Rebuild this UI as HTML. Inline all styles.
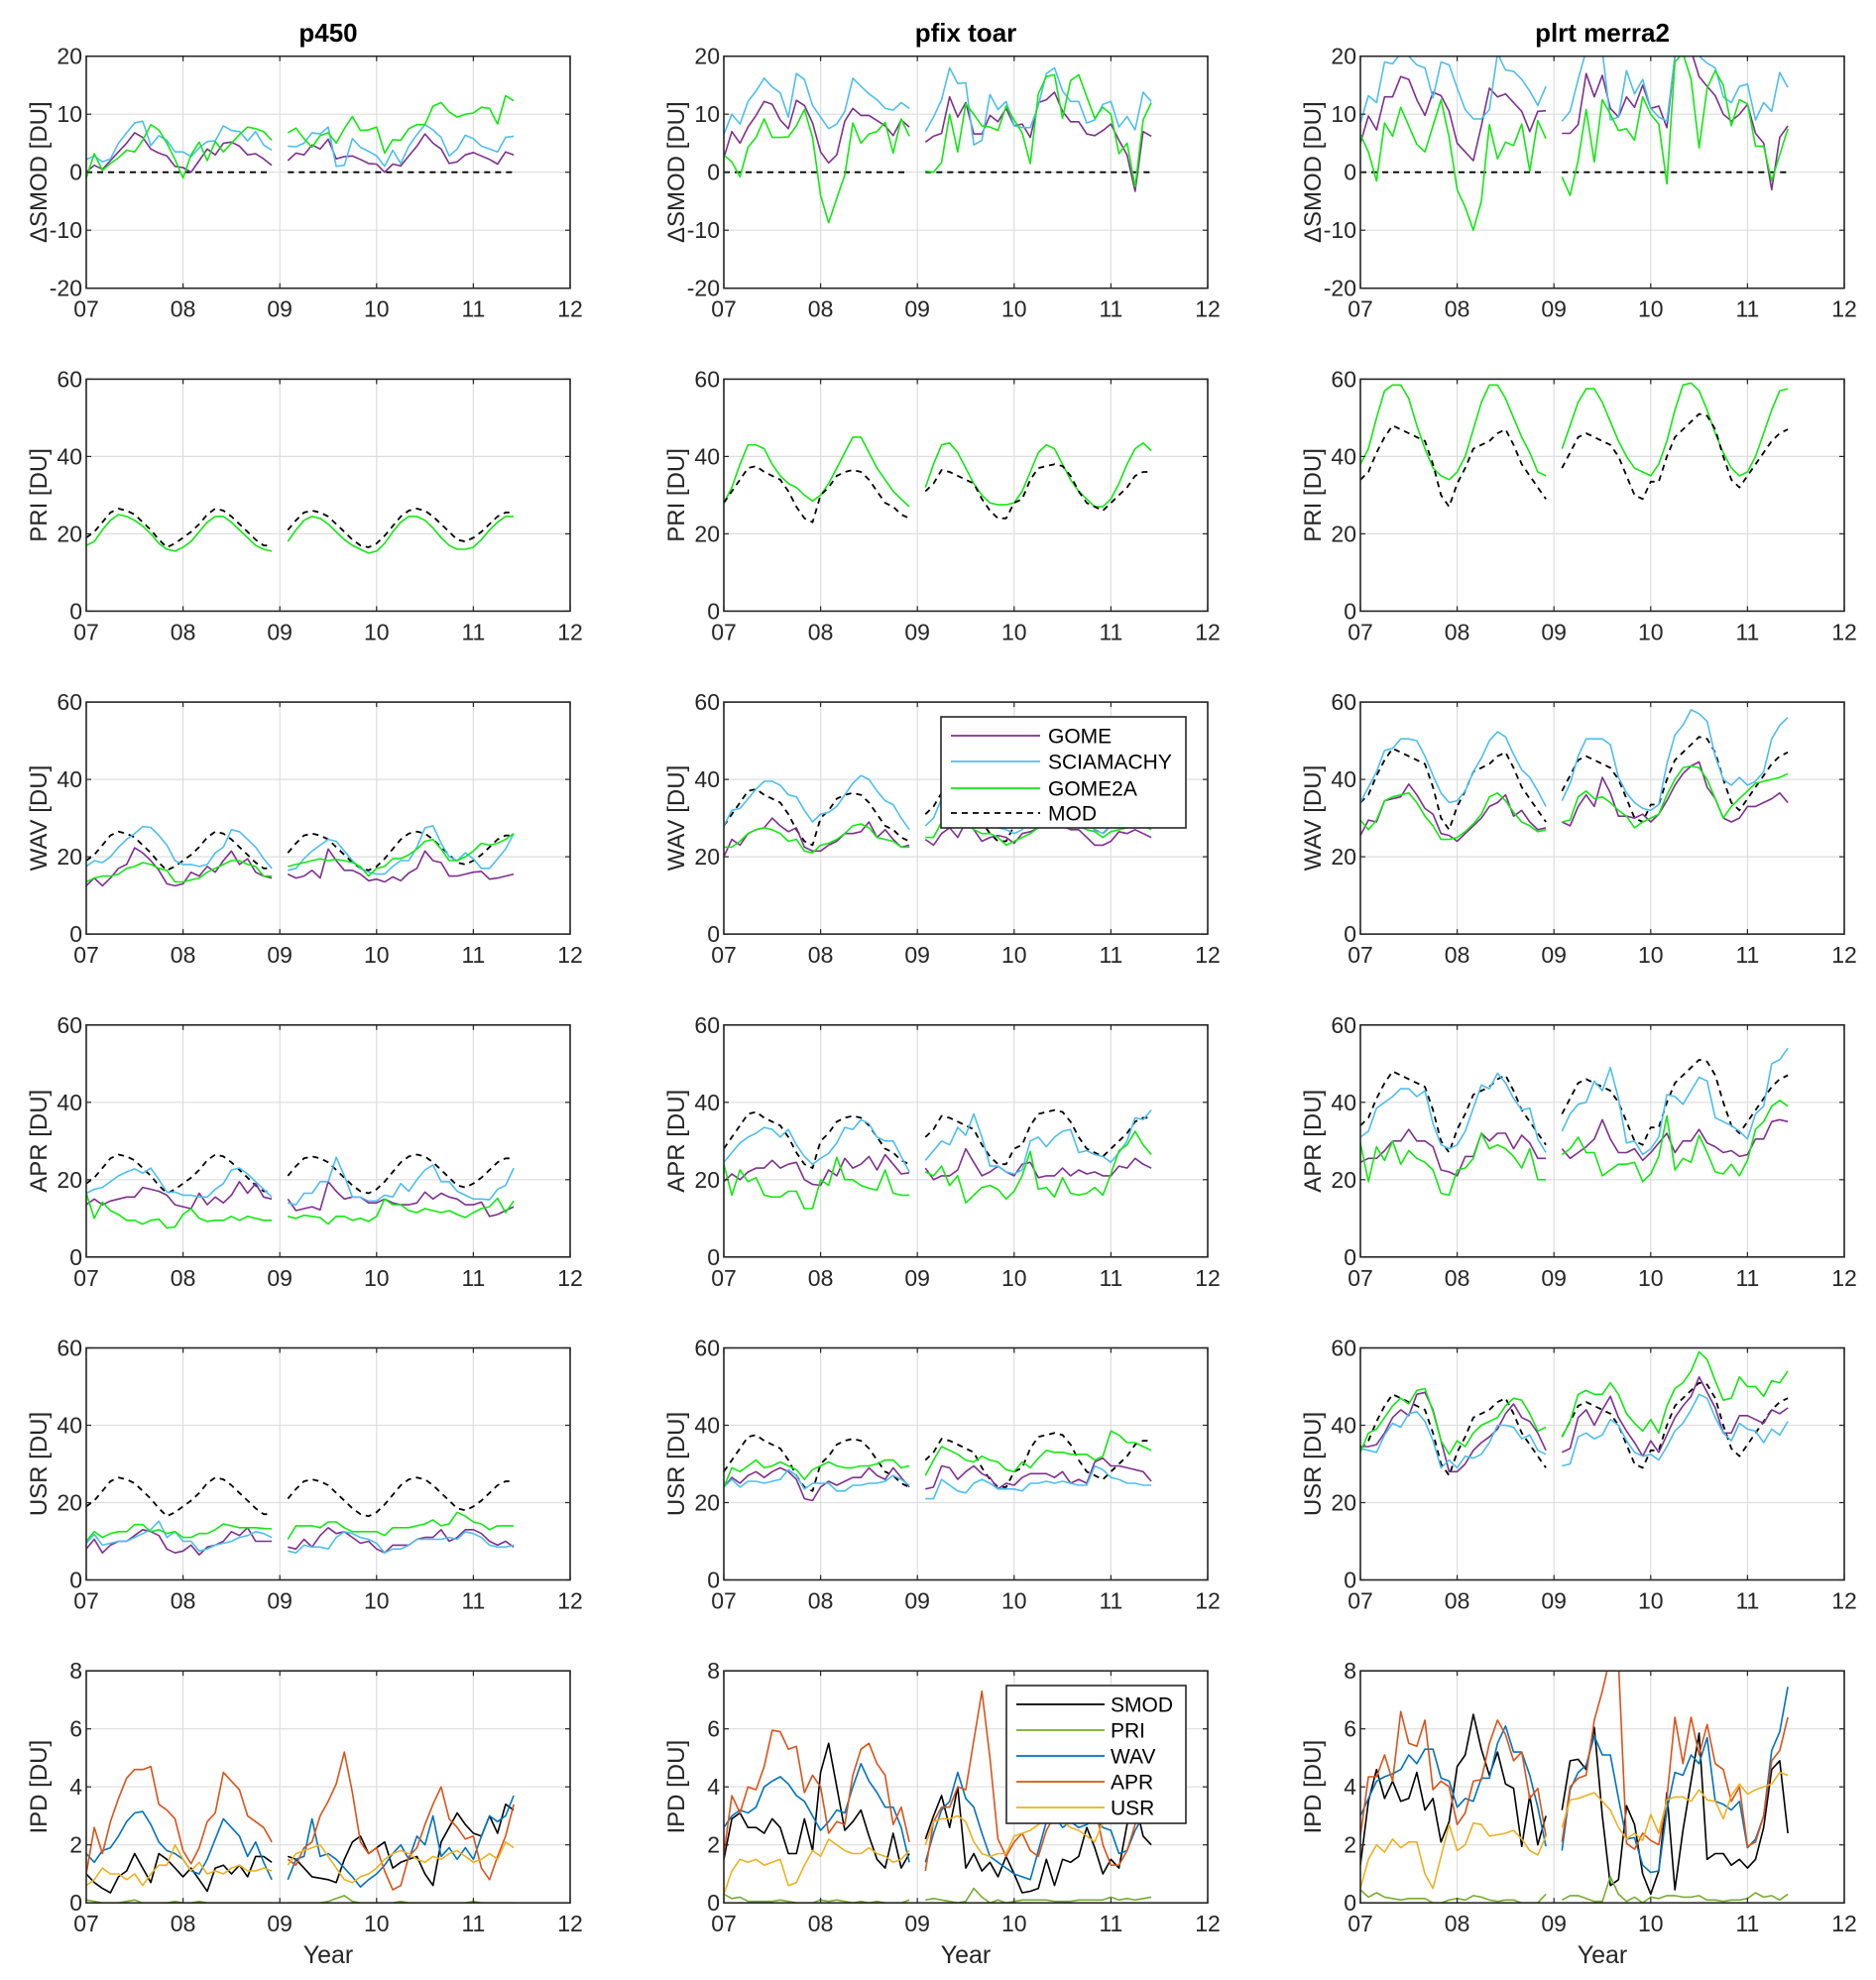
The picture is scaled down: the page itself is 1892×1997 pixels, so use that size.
<!DOCTYPE html>
<html><head><meta charset="utf-8"><title>Ozone panels</title>
<style>
html,body{margin:0;padding:0;background:#fff;}
svg{display:block;font-family:"Liberation Sans",Arial,sans-serif;}
</style></head>
<body>
<svg id="fig" width="1892" height="1997" viewBox="0 0 1892 1997" xmlns="http://www.w3.org/2000/svg"></svg>
<script>
// ---- tick labels ----
const xTickLabels = ["07","08","09","10","11","12"];
const colTitles = ["p450","pfix toar","plrt merra2"];
const rowLabels = ["\u0394SMOD [DU]","PRI [DU]","WAV [DU]","APR [DU]","USR [DU]","IPD [DU]"];
const smodTicks = [-20,-10,0,10,20];
const duTicks = [0,20,40,60];
const ipdTicks = [0,2,4,6,8];

// ---- model (MOD) per column: 24 values (Jan07-Dec08) + 29 values (Feb09-Jun11) ----
const mod_p450 = [19,20.5,23,25.5,26.5,26,25,23,21,18.5,16.5,17.5,19,20.5,22.5,25,26.5,26,24.5,22.5,20.5,18.5,17,17,
 21,23.5,25.5,26,25.5,24.5,22.5,20.5,18.5,17,16.5,17.5,19.5,22,24.5,26,26.5,26,24.5,22.5,20.5,18.5,18,19,20.5,22.5,24.5,25.5,25.5];
const mod_pfix = [28,31,34,37,37.5,36,35,34,31,27,24,23,30,32,35,36,36.5,36,34,31,28,27,25,24,
 31,33,36.5,36,35,34,33,29,26,24,24,28,29,34,37,37.5,38,37.5,35,31,28,27,26,28,30,32,35,36,36];
const mod_plrt = [34,36,41,45,48,47,46,45,44,38,30,27,33,37,42,43,44,46,47,43,38,35,32,29,
 37,41,45,46,45,44,43,40,35,30,29,33.5,33.5,40,45,47,49,51,50.5,47,40,34,32,35,38,41,44,46,47];

// ---- dSMOD ----
const smod_p450_gome = [0,1.2,0.5,2,3.5,5,6.8,6,4,3.3,2.8,1,0.8,0,2,4,3,5,5.2,4.5,3,3.2,2.3,1.2,
 2,3.3,3,4.7,4,5.7,2.3,2.7,2.8,2.2,1.5,1.4,0,1.4,1.1,2.8,4.5,6.6,5,4,1.5,1.8,3,3.4,2.8,2.2,1.4,3.5,3];
const smod_p450_scia = [2.2,2.8,1.8,2.3,5,6.8,8.5,8.8,4.6,6.3,5.5,3.5,3.5,2.7,4.2,5.3,5.4,8,7.2,7,5.4,7,4.7,3.8,
 4.5,4.4,5,6.8,6.6,7.8,1,1.2,5.8,4.3,3.6,2.8,1,3.8,1.5,4.5,6.5,8.2,7.3,6,2.8,4,6.4,5.8,4.5,4,3.5,6,6.2];
const smod_p450_g2a = [-1,3.2,0.3,1.5,2.5,3.8,3.5,5.5,8.2,7.3,5,2.2,-1,3,5.2,2,5.3,3.5,5,6.5,7.8,7.5,7,5.5,
 6.8,7.6,5.8,4.3,6.3,6.8,5,7.5,9.6,7.2,7.3,7.8,3.3,5.6,5.5,7.5,8.2,8.2,11.4,12,10.4,9.5,10,10.2,11.2,11,8.3,13.2,12.3];
const smod_pfix_gome = [2.5,7,5,7.8,9.8,12.2,11.7,9,7.5,12.4,11.5,8.5,3.5,1.6,3,8.8,11,9.8,9.8,8.9,8,6.3,9,7.8,
 5.2,6.2,6.7,13,9.5,12,6.6,6.6,9.8,8.7,11,8,8.3,6,12,12.5,13.8,10.5,8.7,8.7,6.6,6.3,7.2,8.3,5.5,3,-3.3,7,6.2];
const smod_pfix_scia = [6.5,10,8.3,12.2,14,16.2,14.7,13.7,9.5,17,16,11.5,9.5,7.5,8.3,10.5,16.2,14.8,13.5,12.5,11,10.7,12,11,
 7,9.5,12.5,18,15.3,15.4,4.7,5.5,13.4,10.8,12.2,8,7.7,7.7,11.5,17,18,14,12.2,12.2,8.5,9,11.7,12.2,7.8,9.6,7.3,13.8,12.2];
const smod_pfix_g2a = [3,1.8,-0.8,4.3,6,9.2,6,6,6.1,8,10.8,6,-4,-8.7,-4.5,-0.5,8.5,5,6.6,7,8.6,3.3,9.2,6.2,
 0.2,0,1.7,10,3.5,11.8,10,8,7.8,7.2,11.4,9,6.8,1.5,13.5,16.5,16.8,9.3,15.8,16.8,13,9.3,11.2,10,3.2,5,-2.5,9,12];
const smod_plrt_gome = [5,9.7,7.3,13,13,16.5,16,12.5,9.8,13.8,13.2,10.5,5,3.5,2,8,14.5,13,13.5,12,10.5,7,10.5,10.6,
 6.7,6.7,8.2,17,13,16.7,11,9.5,13,11.2,15,11,11.4,7.7,20,21,21,16.5,14.8,13.2,10,8.8,10,11.7,6.7,5,-3,6,8];
const smod_plrt_scia = [8.5,13.2,12,19,18.7,20.5,20,18.5,18,12.8,19,18.5,14.5,10.8,9.2,9.2,10.8,20.5,17.6,17.4,16,14,11.5,14.8,
 8.8,10.5,16,21,20,21,9,9.5,17.5,13.5,16,11,9.5,8.8,20,21,21,20,18.8,18,13,12,14.8,15.2,9,12,10.5,17.2,14.6];
const smod_plrt_g2a = [6.5,3.5,-1.5,8.5,6.2,11.2,8,4.8,3.5,8,12.5,6,-3,-6,-10,-5,8.2,2.3,5.2,4.6,8.3,0.2,8.9,5.8,
 -0.8,-4,2,10.8,1.8,12.5,10,7.2,7.5,5.5,13,10,8.3,-2,19,20.5,16,4.2,14.5,17.5,15,8,12.5,11.8,4.5,4.5,-1.5,3,7.5];

// ---- PRI (all satellites nearly identical) ----
const pri_p450_g2a = [17,18,21,23.5,25,24.5,23.5,22,20,17.5,16,15.5,16.5,18,20.5,23,24.5,24.5,23,21,19,17,16,15.5,
 18,21,23.5,24.5,24,22.5,20.5,18.5,17,16,15,15.5,17.5,20.5,23,24.5,24.5,23.5,21.5,19,17,16,16,16.5,18.5,21,23,24.5,24.5];
const pri_pfix_g2a = [28,32,38,43,43,42,38,35,33,32,30,28.5,30,33,37,41,45,45,41,37,34,31,29,27,
 32,38,43,43.5,41,37,33,30,28,27.5,27.5,28,31,36,41,43,42,38,34,31,29,27,27,29,33,38,42,43.5,41.5];
const pri_plrt_g2a = [38,42,50,57,58.5,58.5,55,48,42,37,35,34,36,40,47,54,58.5,58.5,55,50,45,41,36,35,
 42,48,54,57.5,57.5,54,49,44,40,37,36,35,38,44,52,58.5,59,57,52,46,41,37,35,36,40,46,52,57,57.5];

// ---- WAV ----
const wav_p450_gome = [12.5,14.5,12.5,14.5,17,18,22.3,21,19,16.5,13,12.5,13,16,15,17.5,16,19,21.5,18,19.5,16,15,14.5,
 15.5,14.5,15,16.5,14.5,22,19,16.5,16.5,15.5,13.8,14.2,13.5,14.8,13.8,15.8,17,21.5,19,18.5,15,15,15.5,16,16.2,14.2,14.5,15,15.5];
const wav_p450_scia = [17.5,19,18.5,20,22.5,24.5,26,27.8,27.6,25.5,23,19,18,18,17.5,18,21,22.5,27,26.5,24.5,22.5,19.5,17,
 16.5,17,19.5,21.5,23,24.5,24,21.5,19,17,16,15.5,15.5,17.5,19,19,22.5,27.5,28,23.5,20,19,21,19.5,17,17,19.5,22,26];
const wav_p450_g2a = [13.5,14.5,15,15,15.5,17,17.5,18.5,18,17,16.5,13.5,13.5,14,14.5,16,17,18,19,19,18,17.5,15,15,
 17.5,18,18.5,19,19.5,19,19.3,19,18.5,17.5,15,17,17.5,19.5,19.5,20.5,22,24,24.5,22,19,19,20,21.5,23.5,23,23.5,24.5,26];
const wav_pfix_gome = [20,24.5,23,26,27,27.5,30,28,26.5,27.5,22.5,21.5,21.5,23,24,26,26,26.5,29,25,27,24.5,22.5,23,
 24.5,23,26,27.5,25,29,27,24,25,25.5,25,23.5,26,26.5,27.5,28,28,28,27,27,25,23,23,24,26.5,26,27,26,25];
const wav_pfix_scia = [28,32,32.5,35,37.5,39.5,39.5,38.5,36,35.5,32,29,31,31.5,33,36,39,41,40,37,34.5,33.5,30,27,
 28,30,35,39,40,38,34,31,29,27.5,27,26,27,30,35,38,41,40,37,33,30,27,26,28,31,33,35,37,36];
const wav_pfix_g2a = [22.5,22.5,24,26,27,27.5,27,26,24,24.5,21.5,21,23,23.5,24.5,26,28,28.5,27.5,25,24.5,24,22.5,22.5,
 25,25,29,29,28,29,27,26,26,25,23,24,25,26,27.5,29,29,28.5,28,28,27,26.5,25,26.5,27,27.5,28,28,27];
const wav_plrt_gome = [25.5,29.5,29,34.5,35,35.5,38.8,36,32.5,31,26,25.5,24,26,28,30,33,34,36,30.5,32,29,27,27.5,
 29,28,33,36,33,40.5,36.5,30.5,30.5,30,31,29,31,34.5,38.5,41.5,43.5,44.5,38,35,30,29,30,33,33,34,35,36.5,34];
const wav_plrt_scia = [34,38,42,47.5,48,50.5,50.5,50,46,41,36.5,34,34.5,37,42,45.5,50,52.3,51,46.5,42.5,40.5,37,33,
 34.5,39,46,50.5,50.5,50.5,49,40.5,36.5,34,32.5,32,33.5,44,51.5,54,58,57,55,46,40,38.5,40.5,38.5,39.5,42,50.5,54,56];
const wav_plrt_g2a = [29.5,27,29.5,34.5,35.5,36,36.5,34,30.5,28,24.5,24.5,25,26.5,28.5,31,35.5,36.5,34.5,31.5,29,28,26.5,27,
 29,29.5,35.5,37,35,35.5,34,32,30.5,27.5,29,30,31,36,40,43,43.5,43,40,35,30,33,35,37,39,39.5,40,40.5,41.5];

// ---- APR ----
const apr_p450_gome = [13.5,15,13.5,14.5,15,15.5,15.5,18,17.5,17,16,13.5,13,12.5,16.5,13.5,15.5,14,16,19.5,16.5,19,15.5,15,
 15,12,12.5,13,12.2,19.5,17,15,15.5,15.5,14,14,15,14,13.5,13.5,14,16.8,15,16.5,15.5,15,13.5,13.5,14.2,10.5,11,12,13];
const apr_p450_scia = [16.5,17.5,18,19.5,21,22,22.8,21.7,23,20,16.8,16.8,16,16,15.5,15.5,17.5,19,22.5,23,21.5,19.5,17.5,15.5,
 14,13.5,16.5,16.5,19.5,19.5,25.8,21,15.5,15.5,14.5,14.5,16,15.5,19,17,20,22.5,23.8,19.5,19.5,17,16,15,15,14.8,17.5,18.5,23];
const apr_p450_g2a = [16.5,10,14.2,12,11,9.5,9.5,8.5,9.5,9.8,7.5,7.8,11,12.5,10,9.2,9.5,9.5,10.5,9.5,10.5,10,9.5,9.5,
 10.5,10,10.8,10.5,10.2,8.5,10.5,10.5,9.5,10,9.2,10.5,15,13.5,13.5,12,11.5,12.5,12,11.5,12,11,10.2,11.5,12.5,13,15.2,11.5,14.5];
const apr_pfix_gome = [19.5,21.5,20,22,23,23,25,23,24,24.5,20,18.8,18.5,22.5,21,25.5,23,24,26,22.5,26.5,24,21.5,21.8,
 23,20,21,21,22.5,28,24.5,21,22,23.5,22,21,24,24.5,20.5,21,21,23,21,22.5,21.5,22,21,21,23.5,23,25.5,24,23];
const apr_pfix_scia = [24.5,27,29.5,31,32,33.5,33,31,33,29,26,24,25.5,26.8,29.5,33.5,33,35.5,34.5,31,30,30,26,22,
 25,27.5,30,29,33.5,31.5,37,31,23.5,23.5,22,21.5,22.5,30,31,28.5,31,32.5,33,27,27.5,26.5,26,24.5,27,30,36,35.5,38];
const apr_pfix_g2a = [24,16,22.5,19.5,20.5,16,15.5,15.5,17,17,12.5,12.5,20,18.5,25.8,20,20,18.5,17.8,17.3,22.5,16.5,16,16,
 22,21,23.5,18.5,21,14,16,18,18.5,17.5,15,17,21,27.3,17.5,18,15.5,20.5,16.5,16,16.5,18,16,21.5,27.5,29,32.5,29,26.5];
const apr_plrt_gome = [24.5,25.5,25.5,27.5,30,30,33,30,30,28.5,22.5,22,21,26,26,32,30,32,32,28,31.5,29.5,25.5,25.5,
 28,25.5,27,28.5,30.5,35.5,30.5,27,27,28,25,27,29.5,32,27,30,30,33,29.5,28.5,27,27.5,26,26.5,30.5,30.5,35,35.5,35];
const apr_plrt_scia = [31,32.5,38.5,40,41.5,43.5,43.5,41.5,43,34.5,29,28,29,32.5,38.5,44.5,43.5,47.5,45,41,38,38.5,30.5,27,
 32.5,37,39.5,40,45.5,43,49,41,29.5,30,26.5,28,31,42,41.5,39.5,43,46.5,45.5,36,35,34,32.5,30.5,37,39,50,51,54];
const apr_plrt_g2a = [29.5,19.5,28.5,25,30,24,27.5,25.5,24.5,22.5,16.5,16,22.5,23,25.5,32,28,29,28,26,23,28,20,20,
 26.5,28,31,27,27,21,22.5,24,24,24.5,19.5,21.5,26,36.5,22.5,25.5,24.5,31.5,27,22,21.5,24,21,25,33,35,39,40.5,39];

// ---- USR ----
const usr_p450_gome = [8,10.5,7,9,10,10,11.5,13,12.5,11.5,8,7,7.5,9,6.5,8.5,9,10,12.5,11.5,13.5,10,10,10,
 8.5,8,10.5,8.5,11.5,13.5,12,12.5,11,9.5,10,8,7,9,9,9,10.5,11,11,13,10,11,13,13,12,10,9,10,8.5];
const usr_p450_scia = [9.5,11.8,9,9.5,10,10,11,12,13,15.2,11,12.5,10,10,7.5,8,9,9.5,10,11,11.5,12.5,12,11,
 7.5,7,9,8.5,8.5,8,11,12.5,12,11,10.5,9.5,7,8,8,9,10.5,10.5,10.5,10.5,11,10.5,12.5,12,11,9,8.5,8.5,9];
const usr_p450_g2a = [10,12.5,11,12,12.5,12.5,14.3,14.3,12.5,13,12,12.5,11,11,12,12,13,14.5,14,13.5,13.5,13.5,13.3,13.2,
 10.5,14,14,14,13.5,15,15,13.5,12.5,12.5,12.5,12.5,11.5,13.5,13.5,13.5,14,14.5,15.5,14,14.5,17.5,16.5,15,14.5,13,14,14,14];
const usr_pfix_gome = [24,26.5,25,27,28,26.5,28,29,28,26,21,20.5,24,25.5,24.5,25.5,26.5,26.5,29,27,26,29,26.5,24,
 23.5,24,29.5,29,26,28,29.5,27.5,26.5,23.5,25,24.5,26.5,27.5,27.5,27.5,26.5,28,25,26,25,30.5,31.5,29.5,29.5,29,28.5,28,25.5];
const usr_pfix_scia = [24,26,24,25.5,25.5,25,25.5,26,28.5,27,23.5,25,25,25,23,23,24.5,24.5,25,25,25.5,27,26,24.5,
 21,21,26,24.5,23,22.5,25,26,25,23.5,23.5,23.5,23,25,25,25.5,25,25.5,25,24.5,24.5,29.5,28.5,26.5,26,25,25,24.5,24.5];
const usr_pfix_g2a = [24,29,28,29.5,31,29,29.5,30.5,29.5,28.5,26,28.5,29.5,30.5,29.5,29,29,29.5,29.5,30,31,31,29,29.5,
 27,31,34.5,33.5,32.5,31,30.5,32,31,30.5,28.5,28,30.5,29,31.5,33.5,33,33,32.5,32.5,32.5,31,32,38.5,37.5,35.5,35.5,34.5,33.5];
const usr_plrt_gome = [34.5,34.5,35,38,42,44,42.5,48,48.5,44,36,28,28,30,33.5,35.5,37,39,43,45.5,42,41,38,33.5,
 33,34,42,44,40,44,47.5,42,38.5,35.5,32,36,33,37.5,42,45,47.5,52.5,48.5,44.5,38,38,42.5,42.5,41.5,40.5,44,43,44.5];
const usr_plrt_scia = [34,33.5,33,37.5,40.5,39.5,43,43.5,41,36,29,31,29,32,31.5,32.5,35.5,40,40,39.5,36.5,37.5,33.5,32.5,
 29.5,30,37,38,36.5,37.5,41.5,40,36,33,32,32.5,31,34.5,38.5,40.5,44,48,47,42,38,36,40.5,39,38.5,35.5,39,37.5,41];
const usr_plrt_g2a = [33,38,39,42,45,47,45.5,49,49.5,43.5,36,32.5,36,34.5,38,40,41,42,45,47,46.5,43,38.5,39.5,
 37,41,48,49,48,48,51,48,43,40.5,38.5,41.5,38,45,49.5,51,54,59,57,51.5,46.5,47,52.5,50,50,47.5,51.5,51,54];

// ---- IPD ----
const ipd_p450_smod = [1,0.7,0.5,0.35,0.9,1.1,1.7,1.2,0.7,1.7,1.5,1.2,0.9,1.2,0.8,0.4,1.2,1.3,1.0,1.3,0.9,1.6,1.6,1.4,
 1.6,1.5,1.2,0.9,0.85,0.8,0.7,1.5,2.1,2.3,1.7,1.9,2.1,1.2,1.4,1.5,1.6,1.0,0.6,2.1,2.6,3.1,2.7,2.4,2.3,3.0,2.4,3.4,3.2];
const ipd_p450_pri = [0.1,0.05,0,0,0,0.05,0.1,0,0,0,0,0.05,0,0,0.05,0,0,0,0,0,0,0,0,0,
 0,0,0,0,0,0.05,0.15,0.25,0.05,0,0,0,0,0,0.05,0,0,0,0,0,0,0,0,0.05,0,0,0,0,0];
const ipd_p450_wav = [1.7,1.4,1.8,1.9,2.3,2.8,3.1,3.15,2.7,2.1,1.8,1.7,1.5,1.1,1,1.5,2.2,2.9,2.6,2.3,1.6,2.1,1.4,0.8,
 0.8,1.5,1.6,2.9,1.6,1.7,1.5,1.2,0.9,0.55,0.8,1.0,1.3,1.7,2.0,1.5,2.3,2.0,3.0,1.6,1.9,1.5,1.9,1.5,2.3,3.0,2.8,3.0,3.7];
const ipd_p450_apr = [1,2.6,1.7,2.8,3.6,4.3,4.6,4.6,4.7,3.4,3.2,2.9,1.8,1.35,1.9,2.8,3.1,4.5,4.2,3.9,3.0,2.8,2.6,2.1,
 1.5,1.3,1.9,2.1,3.0,3.5,4.1,5.2,3.8,2.1,1.7,1.9,1.1,0.45,0.6,1.6,1.9,2.7,3.4,4.0,2.9,2.6,2.2,2.3,1.2,0.8,1.6,2.3,3.4];
const ipd_p450_usr = [0.6,0.8,1.2,1.0,1.0,0.8,1.0,0.6,1.0,1.3,1.3,2.0,1.5,1.1,1.4,1.0,1.1,1.0,1.2,1.3,1.1,1.1,1.2,1.1,
 1.3,1.7,1.8,1.9,2.0,1.6,1.2,0.8,0.7,0.9,1.0,1.2,1.5,1.7,1.8,1.7,1.5,1.4,1.6,1.5,1.7,1.8,1.6,1.4,1.5,1.7,1.5,2.1,1.9];
const ipd_pfix_smod = [1.5,2.9,3.1,2.6,2.6,2.4,2.9,2.6,1.7,1.7,2.9,1.8,4.5,5.5,4.0,2.5,2.8,3.2,2.3,1.5,1.2,2.4,1.2,1.7,
 2.2,3.0,3.7,2.6,4.0,1.2,1.7,1.1,1.4,0.9,1.6,1.0,0.35,0.4,0.5,1.5,0.6,1.5,1.4,1.6,2.6,1.9,1.0,1.5,1.2,2.7,3.5,2.3,2.0];
const ipd_pfix_pri = [0.3,0.15,0.2,0.05,0.05,0.05,0.05,0.1,0.05,0,0,0,0.1,0.05,0.1,0.05,0,0.05,0,0.05,0,0,0,0.1,
 0.1,0.15,0.1,0.05,0,0.05,0.5,0.2,0,0.1,0,0.05,0.1,0.1,0.1,0.1,0.05,0.05,0.05,0.1,0.1,0.1,0.1,0.2,0.1,0.15,0.1,0.15,0.2];
const ipd_pfix_wav = [2.6,3.0,3.2,3.1,3.3,4.0,4.2,4.35,4.1,3.7,3.5,3.0,2.5,2.8,3.2,3.1,4.0,4.8,4.2,3.8,3.3,3.3,2.6,1.4,
 1.4,2.4,3.2,3.5,4.5,3.6,3.3,2.4,1.6,1.4,1.2,1.0,0.9,0.8,1.8,2.8,3.0,2.6,2.8,2.6,2.7,2.9,2.6,2.5,1.7,1.8,2.5,3.0,3.5];
const ipd_pfix_apr = [1.7,3.7,3.1,4.0,3.9,4.7,5.95,5.9,5.3,5.4,3.8,4.4,4.0,2.4,2.8,2.7,4.4,5.3,5.5,4.8,4.4,2.7,3.3,2.1,
 1.1,2.8,3.3,3.3,4.0,3.9,5.6,7.3,5.0,2.2,1.6,2.1,2.4,1.8,1.6,2.5,3.0,3.2,3.0,2.8,3.0,3.4,2.0,1.3,1.3,1.8,2.7,3.3,3.5];
const ipd_pfix_usr = [0.3,1.1,1.5,1.4,1.5,1.3,1.4,1.5,0.6,0.7,1.3,1.8,1.6,2.2,2.0,1.8,1.7,1.7,1.9,1.7,1.6,1.4,1.5,1.8,
 2.0,2.8,2.9,2.9,3.0,2.8,2.1,1.7,1.6,1.7,1.7,2.3,2.4,2.5,2.7,2.9,3.0,2.8,2.6,2.5,2.3,2.1,2.8,2.9,3.0,3.1,3.0,3.2,3.2];
const ipd_plrt_smod = [1.3,3.5,4.6,3.6,4.2,3.5,3.6,4.5,3.2,3.6,2.1,2.8,4.7,5.1,6.5,5.3,4.4,5.2,4.1,3.95,1.95,3.7,2.0,3.0,
 3.2,4.9,4.95,4.6,6.05,3.0,0.6,0.8,3.35,2.7,1.0,0.3,1.1,3.8,0.45,2.5,4.2,5.85,1.5,1.7,1.7,1.3,1.5,1.2,1.5,2.6,4.6,4.9,2.4];
const ipd_plrt_pri = [0.45,0.2,0.35,0.2,0.15,0.1,0.15,0.15,0.15,0,0,0.1,0.15,0.1,0.25,0.2,0.1,0.05,0.1,0.1,0,0,0,0.3,
 0.1,0.25,0.25,0.15,0.05,0.05,0.9,0.3,0.05,0.2,0,0.2,0.15,0.25,0.25,0.2,0.2,0.25,0.1,0.1,0.05,0.1,0.1,0.15,0.35,0.2,0.25,0.1,0.3];
const ipd_plrt_wav = [3.0,3.6,4.2,4.35,4.45,4.6,5.1,4.8,5.3,5.3,4.3,4.2,3.3,3.6,3.5,4.3,4.3,5.5,6.1,5.2,5.2,4.4,3.3,1.95,
 1.8,3.9,4.5,4.75,5.75,5.1,5.1,3.6,2.2,2.25,1.3,1.05,1.1,3.2,4.5,4.4,5.1,4.8,5.7,3.5,3.4,3.2,3.5,1.9,2.2,3.0,5.25,5.9,7.45];
const ipd_plrt_apr = [2.3,4.35,4.35,5.1,4.2,6.6,5.5,5.4,6.3,3.9,4.2,4.0,2.7,3.1,4.2,4.25,5.5,6.3,5.8,4.9,5.2,3.6,3.95,2.3,
 2.1,4.0,4.3,4.4,6.3,7.3,8.5,8.3,2.05,1.85,2.4,2.15,2.0,3.6,6.4,4.8,6.4,5.1,6.15,4.8,4.6,3.5,4.0,1.95,2.1,3.0,4.9,5.25,6.4];
const ipd_plrt_usr = [0.5,1.5,2.0,1.75,2.2,1.9,2.1,2.1,1.0,0.5,1.6,2.7,1.8,2.0,2.75,2.7,2.3,2.35,2.4,2.5,2.2,1.8,1.65,2.3,
 2.6,3.55,3.6,3.7,3.8,3.5,3.2,2.6,2.2,2.4,2.15,3.05,2.4,3.55,3.65,3.65,3.5,3.9,3.55,3.5,2.9,3.7,4.1,3.75,3.9,4.0,4.1,4.5,4.4];

// ---- layout ----
const NS = "http://www.w3.org/2000/svg";
const svg = document.getElementById("fig");
const colLeft = [87, 730, 1372];
const plotW = 488, plotH = 234, rowTop0 = 56.7, rowStep = 325.7;
const C = {gome:"#7E2F8E", scia:"#4DBEEE", g2a:"#11E811", mod:"#000000",
  smod:"#000000", pri:"#77AC30", wav:"#0072BD", apr:"#D95319", usr:"#EDB120"};
let clipId = 0;

function mk(tag, attrs, parent){ const e=document.createElementNS(NS,tag); for(const k in attrs) e.setAttribute(k,attrs[k]); (parent||svg).appendChild(e); return e; }
function monthOf(i){ return i<24 ? i : i+1; }

function panel(r, c, ticks, series, zeroLine){
  const x0=colLeft[c], y0=rowTop0+r*rowStep, ymin=ticks[0], ymax=ticks[ticks.length-1];
  const g=mk("g",{});
  
  
  const xs = m => x0 + m/60*plotW;
  const ys = v => y0 + plotH - (v-ymin)/(ymax-ymin)*plotH;
  // grid
  for(let k=0;k<xTickLabels.length;k++){ const X=xs(k*12); mk("line",{x1:X,x2:X,y1:y0,y2:y0+plotH,stroke:"#dedede","stroke-width":1.2},g); }
  ticks.forEach(t=>{ const Y=ys(t); mk("line",{x1:x0,x2:x0+plotW,y1:Y,y2:Y,stroke:"#dedede","stroke-width":1.2},g); });
  // clip
  const cid="clp"+(clipId++);
  const cp=mk("clipPath",{id:cid},g); mk("rect",{x:x0,y:y0,width:plotW,height:plotH},cp);
  const lg=mk("g",{"clip-path":"url(#"+cid+")"},g);
  if(zeroLine){
    [[0,23],[25,53]].forEach(seg=>{ const l=mk("line",{x1:xs(seg[0]),x2:xs(seg[1]),y1:ys(0),y2:ys(0),stroke:"#000","stroke-width":1.8,"stroke-dasharray":"6,5"},lg);
        });
  }
  series.forEach(s=>{
    [[0,24],[24,53]].forEach(seg=>{
      let d="";
      for(let i=seg[0];i<seg[1];i++){ d+=(i===seg[0]?"M":"L")+xs(monthOf(i)).toFixed(1)+","+ys(s.v[i]).toFixed(1); }
      const p=mk("path",{d:d,fill:"none",stroke:s.c,"stroke-width":s.dash?1.8:1.6,"stroke-linejoin":"round"},lg);
      if(s.dash) p.setAttribute("stroke-dasharray","6,5");
      
      
    });
  });
  // box
  const b=mk("rect",{x:x0,y:y0,width:plotW,height:plotH,fill:"none",stroke:"#262626","stroke-width":1.6},g);
   
  // ticks & labels
  for(let k=0;k<xTickLabels.length;k++){
    const X=xs(k*12);
    mk("line",{x1:X,x2:X,y1:y0+plotH,y2:y0+plotH-5,stroke:"#262626","stroke-width":1.2},g);
    mk("line",{x1:X,x2:X,y1:y0,y2:y0+5,stroke:"#262626","stroke-width":1.2},g);
    const t=mk("text",{x:X,y:y0+plotH+29,"text-anchor":"middle","font-size":23,fill:"#262626"},g); t.textContent=xTickLabels[k];
     
  }
  ticks.forEach(tv=>{
    const Y=ys(tv);
    mk("line",{x1:x0,x2:x0+5,y1:Y,y2:Y,stroke:"#262626","stroke-width":1.2},g);
    mk("line",{x1:x0+plotW,x2:x0+plotW-5,y1:Y,y2:Y,stroke:"#262626","stroke-width":1.2},g);
    const t=mk("text",{x:x0-4,y:Y+8,"text-anchor":"end","font-size":23,fill:"#262626"},g); t.textContent=String(tv);
     
  });
  const yl=mk("text",{x:0,y:0,"text-anchor":"middle","font-size":24,fill:"#262626",transform:"translate("+(x0-40)+","+(y0+plotH/2)+") rotate(-90)"},g);
  yl.textContent=rowLabels[r];
   
}

const S=(v,c,n,dash)=>({v:v,c:c,n:n,dash:dash});
// row 0
panel(0,0,smodTicks,[S(smod_p450_gome,C.gome,'gome'),S(smod_p450_scia,C.scia,'sciamachy'),S(smod_p450_g2a,C.g2a,'gome2a')],true);
panel(0,1,smodTicks,[S(smod_pfix_gome,C.gome,'gome'),S(smod_pfix_scia,C.scia,'sciamachy'),S(smod_pfix_g2a,C.g2a,'gome2a')],true);
panel(0,2,smodTicks,[S(smod_plrt_gome,C.gome,'gome'),S(smod_plrt_scia,C.scia,'sciamachy'),S(smod_plrt_g2a,C.g2a,'gome2a')],true);
// row 1
panel(1,0,duTicks,[S(pri_p450_g2a,C.g2a,'gome2a'),S(mod_p450,C.mod,'mod',true)]);
panel(1,1,duTicks,[S(pri_pfix_g2a,C.g2a,'gome2a'),S(mod_pfix,C.mod,'mod',true)]);
panel(1,2,duTicks,[S(pri_plrt_g2a,C.g2a,'gome2a'),S(mod_plrt,C.mod,'mod',true)]);
// rows 2-4
const rowsData=[
 [[wav_p450_gome,wav_p450_scia,wav_p450_g2a],[wav_pfix_gome,wav_pfix_scia,wav_pfix_g2a],[wav_plrt_gome,wav_plrt_scia,wav_plrt_g2a]],
 [[apr_p450_gome,apr_p450_scia,apr_p450_g2a],[apr_pfix_gome,apr_pfix_scia,apr_pfix_g2a],[apr_plrt_gome,apr_plrt_scia,apr_plrt_g2a]],
 [[usr_p450_gome,usr_p450_scia,usr_p450_g2a],[usr_pfix_gome,usr_pfix_scia,usr_pfix_g2a],[usr_plrt_gome,usr_plrt_scia,usr_plrt_g2a]]];
const mods=[mod_p450,mod_pfix,mod_plrt];
rowsData.forEach((row,ri)=>row.forEach((d,ci)=>{
  panel(ri+2,ci,duTicks,[S(mods[ci],C.mod,'mod',true),S(d[0],C.gome,'gome'),S(d[1],C.scia,'sciamachy'),S(d[2],C.g2a,'gome2a')]);
}));
// row 5
const ipd=[[ipd_p450_smod,ipd_p450_pri,ipd_p450_wav,ipd_p450_apr,ipd_p450_usr],
 [ipd_pfix_smod,ipd_pfix_pri,ipd_pfix_wav,ipd_pfix_apr,ipd_pfix_usr],
 [ipd_plrt_smod,ipd_plrt_pri,ipd_plrt_wav,ipd_plrt_apr,ipd_plrt_usr]];
ipd.forEach((d,ci)=>panel(5,ci,ipdTicks,[S(d[0],C.smod,'smod'),S(d[1],C.pri,'pri'),S(d[2],C.wav,'wav'),S(d[3],C.apr,'apr'),S(d[4],C.usr,'usr')]));

// titles
colTitles.forEach((t,ci)=>{ const e=mk("text",{x:colLeft[ci]+plotW/2,y:42,"text-anchor":"middle","font-size":26,"font-weight":"bold",fill:"#000"}); e.textContent=t;
    });
// Year labels
colLeft.forEach(x=>{ const e=mk("text",{x:x+plotW/2,y:1980,"text-anchor":"middle","font-size":25,fill:"#262626"}); e.textContent="Year";
    });

// legends
function legend(name,x,y,w,h,entries,ys,lx1,lx2,tx,fs){
  const g=mk("g",{});
   
  mk("rect",{x:x,y:y,width:w,height:h,fill:"#fff",stroke:"#262626","stroke-width":1.6},g);
  entries.forEach((en,i)=>{
    const l=mk("line",{x1:lx1,x2:lx2,y1:ys[i],y2:ys[i],stroke:en[1],"stroke-width":1.8},g);
    if(en[2]) l.setAttribute("stroke-dasharray","6,5");
    const t=mk("text",{x:tx,y:ys[i]+fs*0.36,"font-size":fs,fill:"#000"},g); t.textContent=en[0];
     
  });
}
legend('satellite-legend',949,723,247,112,[["GOME",C.gome],["SCIAMACHY",C.scia],["GOME2A",C.g2a],["MOD","#000",true]],[742,768,795,820],959,1049,1057,21);
legend('ipd-legend',1015,1700,181,139,[["SMOD",C.smod],["PRI",C.pri],["WAV",C.wav],["APR",C.apr],["USR",C.usr]],[1719,1745,1771,1797,1823],1025,1114,1120,21);
</script>
</body></html>
